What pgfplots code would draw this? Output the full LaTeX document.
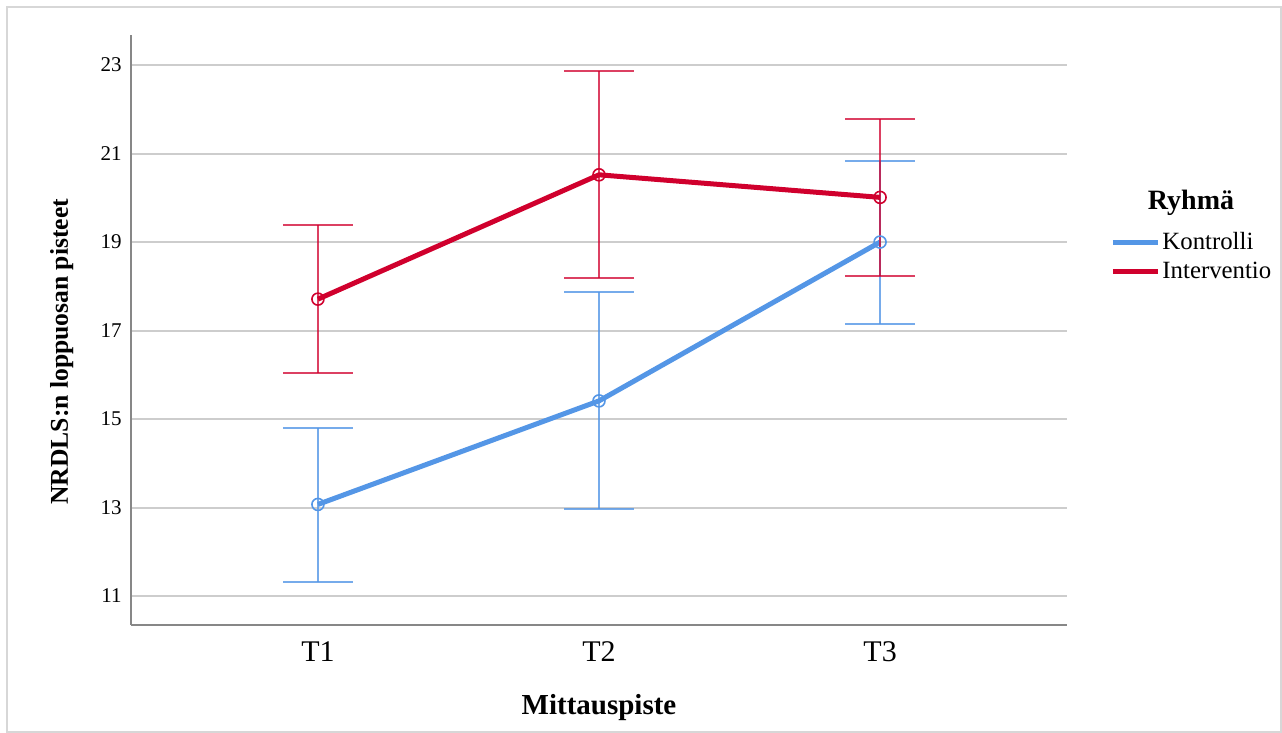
\documentclass[border=0pt]{standalone}
\usepackage{pgfplots}
\pgfplotsset{compat=1.18}
\usepackage{fontspec}
\setmainfont{Liberation Serif}
\definecolor{kblue}{RGB}{84,150,230}
\definecolor{ired}{RGB}{208,0,45}
\definecolor{gridc}{RGB}{205,205,205}
\definecolor{axc}{RGB}{135,135,135}
\definecolor{boxc}{RGB}{215,215,215}
\begin{document}
\begin{tikzpicture}
\useasboundingbox (0,0) rectangle (641pt,366.5pt);
\draw[boxc, line width=0.8pt] (3.5pt,0.5pt) rectangle (640.5pt,363pt);
\begin{axis}[
  at={(65.5pt,54pt)}, anchor=south west,
  scale only axis, width=468pt, height=295pt,
  xmin=0.335, xmax=3.665, ymin=10.345, ymax=23.68,
  axis x line*=bottom, axis y line*=left,
  axis line style={axc, line width=1pt, -},
  major tick length=0pt,
  xtick={1,2,3}, xticklabels={T1,T2,T3},
  ytick={11,13,15,17,19,21,23},
  ymajorgrids, grid style={gridc, line width=1pt},
  /pgf/number format/assume math mode=true,
  yticklabel style={font=\fontsize{10.5}{12}\selectfont, anchor=east, inner sep=0pt, xshift=-4.5pt},
  xticklabel style={font=\fontsize{15}{17}\selectfont, anchor=base, inner sep=0pt, yshift=-18.3pt},
  xlabel={\textbf{Mittauspiste}},
  xlabel style={font=\fontsize{14.5}{16}\selectfont, at={(axis description cs:0.5,0)}, anchor=base, inner sep=0pt, yshift=-45pt},
  ylabel={\textbf{NRDLS:n loppuosan pisteet}},
  ylabel style={font=\fontsize{12.8}{14}\selectfont, at={(axis description cs:0,0.463)}, anchor=base, inner sep=0pt, yshift=31.5pt},
  clip=false,
  legend cell align=left,
  legend style={at={(axis description cs:1.046,0.624)}, anchor=west, draw=none, fill=none, inner sep=0pt, row sep=2.5pt,
    font=\fontsize{12.4}{14}\selectfont, nodes={inner sep=1pt, anchor=west}},
  legend image code/.code={\draw[line width=2.5pt] (0pt,0pt) -- (22.5pt,0pt);},
]
\addplot[kblue, line width=2.5pt, mark=o, mark size=3pt, mark options={line width=0.8pt, solid, fill=none},
  error bars/.cd, y dir=both, y explicit,
  error bar style={line width=1pt, kblue, opacity=0.8},
  error mark options={rotate=90, line width=1pt, kblue, mark size=17.5pt, opacity=0.8}]
  coordinates {
  (1,13.07) += (0,1.72) -= (0,1.75)
  (2,15.41) += (0,2.47) -= (0,2.44)
  (3,19.00) += (0,1.83) -= (0,1.86)
  };
\addlegendentry{Kontrolli}
\addplot[ired, line width=2.5pt, mark=o, mark size=3pt, mark options={line width=0.8pt, solid, fill=none},
  error bars/.cd, y dir=both, y explicit,
  error bar style={line width=1pt, ired, opacity=0.75},
  error mark options={rotate=90, line width=1pt, ired, mark size=17.5pt, opacity=0.75}]
  coordinates {
  (1,17.71) += (0,1.67) -= (0,1.67)
  (2,20.52) += (0,2.34) -= (0,2.33)
  (3,20.01) += (0,1.77) -= (0,1.77)
  };
\addlegendentry{Interventio}
\node[font=\fontsize{14}{16}\selectfont\bfseries, anchor=center] at (axis description cs:1.1325,0.715) {Ryhmä};
\end{axis}
\end{tikzpicture}
\end{document}
